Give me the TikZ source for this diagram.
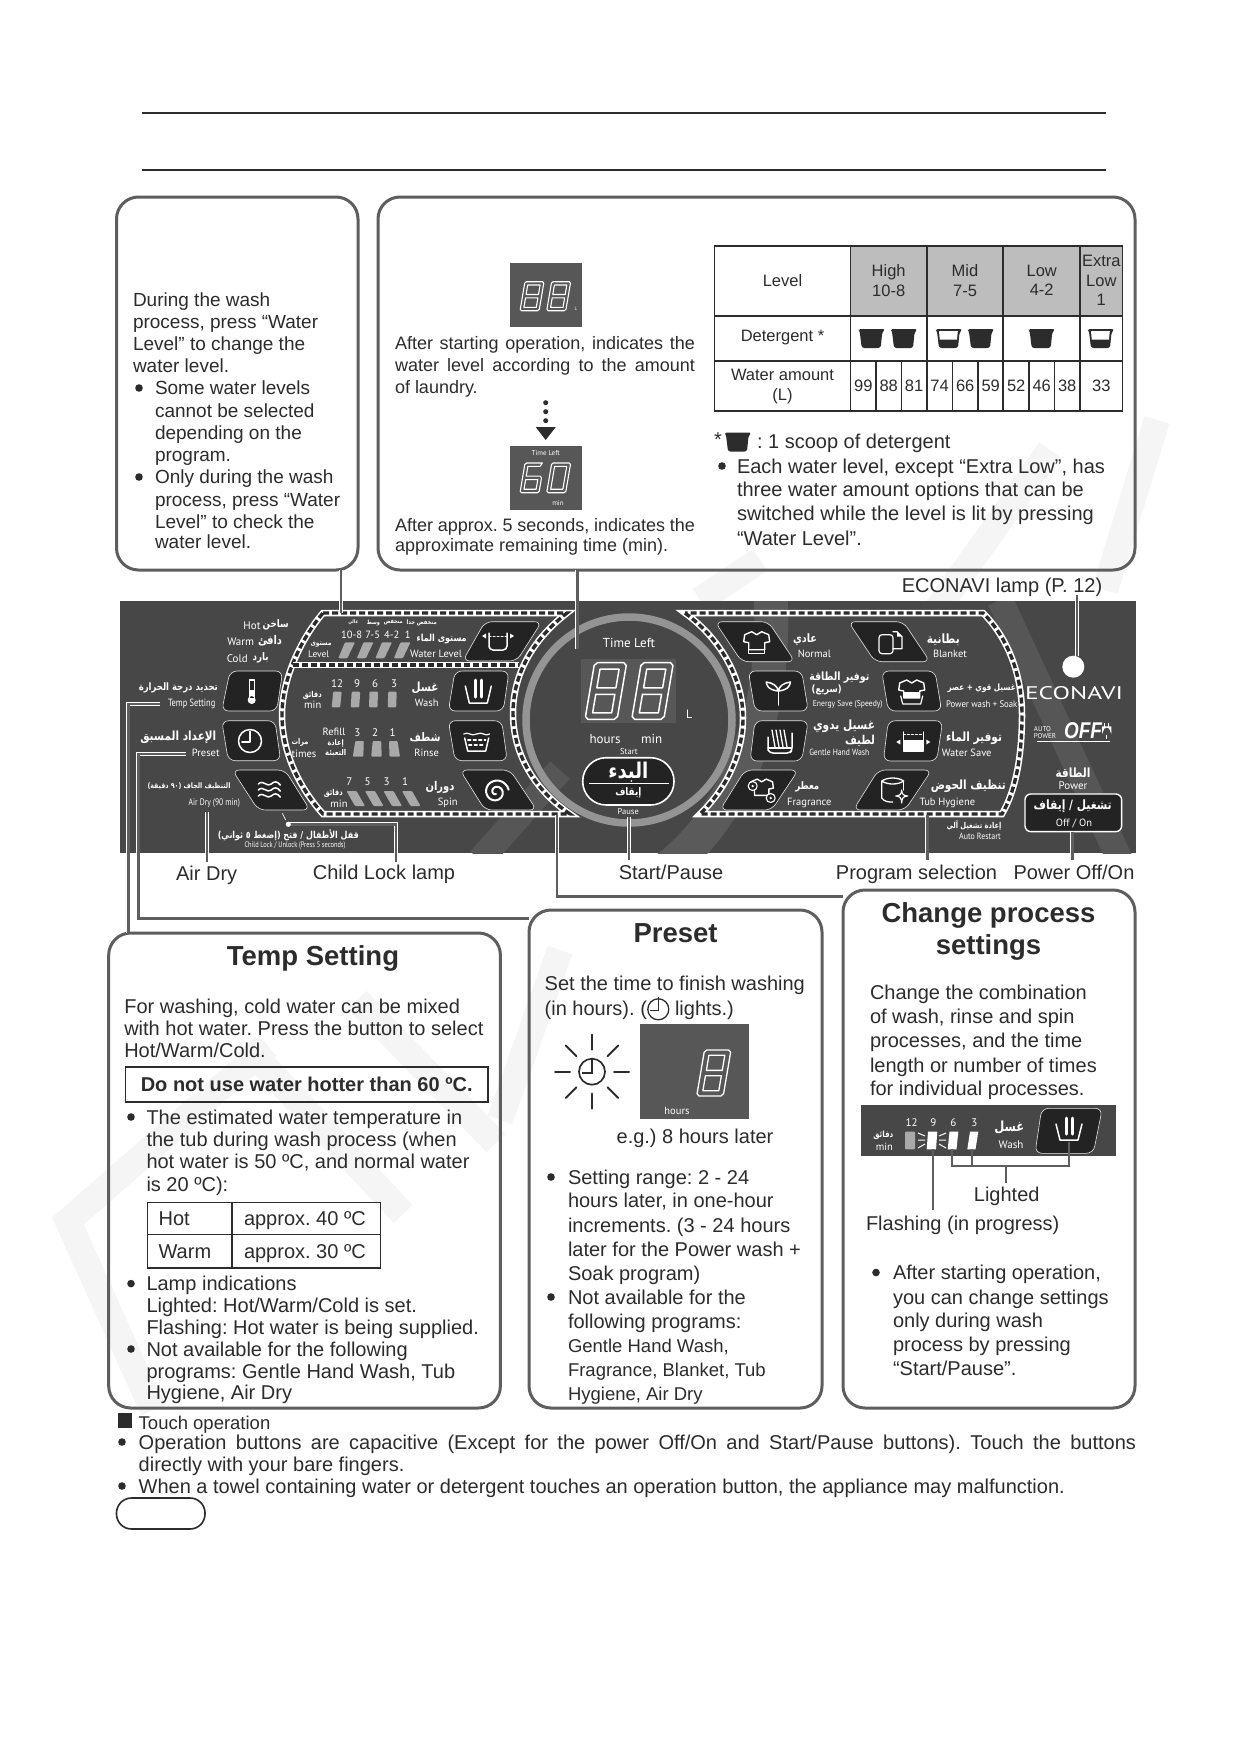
\documentclass[tikz,border=0pt]{standalone}
\usepackage{fontspec}
\usepackage{graphicx}
\setmainfont{Liberation Sans}
\newfontfamily\pf{PT Sans}
\newfontfamily\arabf[Script=Arabic]{DejaVu Sans}
\TeXXeTstate=1
\usetikzlibrary{calc}
\definecolor{ink}{HTML}{2C2C2C}
\definecolor{edge}{HTML}{5E5E5E}
\definecolor{panelc}{HTML}{474747}
\definecolor{lcdc}{HTML}{575757}
\definecolor{btnc}{HTML}{232323}
\definecolor{barc}{HTML}{A9A9A9}
\definecolor{tabg}{HTML}{BDBDBD}
\definecolor{wm}{HTML}{F5F5F5}
\newcount\tcn
\tikzset{
 x=1pt,y=-1pt,
 tx/.style={inner sep=0pt,outer sep=0pt,text=ink,font=\fontsize{20}{22}\selectfont},
 tbl/.style={inner sep=0pt,outer sep=0pt,text=ink,font=\fontsize{16.5}{19.5}\selectfont,align=center},
 plab/.style={inner sep=0pt,outer sep=0pt,text=white,font=\pf\fontsize{10.5}{12}\selectfont},
 rbox/.style={draw=edge,line width=3pt,rounded corners=22pt,fill=white,fill opacity=0,inner sep=0pt,outer sep=0pt},
 leader/.style={draw=white,double=edge,double distance=2.4pt,line width=.8pt},
 btnst/.style={fill=btnc,draw=black!10,line width=.6pt,rounded corners=7pt},
 ic/.style={draw=white,line width=1.5pt,line cap=round,line join=round},
 tline/.style={draw=ink,line width=1.4pt},
 tthick/.style={draw=ink,line width=2.2pt},
 frw/.style={draw=white,line width=6.5pt,line join=miter},
 frd/.style={draw=panelc!60!black,line width=3.4pt,dash pattern=on 6pt off 3pt},
 bar/.style={fill=barc,rounded corners=1pt},
}
\newcommand{\txt}[4][]{\global\advance\tcn by 1\relax\node[tx,#1] (t\the\tcn) at (#2,#3) {#4};}
\newcommand{\bl}[3]{\txt[anchor=base west]{#1}{{#2+7}}{#3}}
\newcommand{\blA}[3]{\txt[anchor=base west,font=\fontsize{19}{22}\selectfont]{#1}{{#2+6.8}}{#3}}
\newcommand{\blB}[3]{\txt[anchor=base west,font=\fontsize{18}{22}\selectfont]{#1}{{#2+6.8}}{#3}}
\newcommand{\jl}[4]{\txt[anchor=base west]{#1}{{#2+7}}{\makebox[#3pt][s]{#4}}}
\newcommand{\jlB}[4]{\txt[anchor=base west,font=\fontsize{18}{22}\selectfont]{#1}{{#2+6.8}}{\makebox[#3pt][s]{#4}}}
\newcommand{\base}[3]{\txt[anchor=base]{#1}{#2}{#3}}
\newcommand{\dotb}[2]{\fill[ink] (#1,#2) circle (3.8);}
\newcommand{\pl}[4][]{\global\advance\tcn by 1\relax\node[plab,#1] (t\the\tcn) at (#2,#3) {#4};}
\newcommand{\nr}[2]{\scalebox{#1}[1]{#2}}
\newcommand{\aral}[4]{\global\advance\tcn by 1\relax\node[plab] (t\the\tcn) at (#1,#2) {\scalebox{1}[1.2]{\resizebox{#3pt}{!}{\arabf\bfseries\fontsize{12}{14}\selectfont #4}}};}
\newcommand{\rb}[5]{\node[rbox,minimum width={#4pt-#2pt},minimum height={#5pt-#3pt}] (#1) at ({(#2+#4)/2},{(#3+#5)/2}) {};}
\newcommand{\btn}[8]{\draw[btnst] (#1,#2)--(#3,#4)--(#5,#6)--(#7,#8)--cycle;}
\newcommand{\ico}[3]{\begin{scope}[shift={(#1,#2)}]#3\end{scope}}
% outlined seven segment digits: 8, 0 or 6
\newcommand{\digit}[6]{\begin{scope}[shift={({#1+.17*#4},#2)},xslant=.17]
 \pgfmathsetmacro{\dgW}{#3-.17*#4}\pgfmathsetmacro{\dgH}{#4}\pgfmathsetmacro{\dgT}{#4*.115}\pgfmathsetmacro{\dgC}{#4*.05}
 \ifnum#5=6
 \draw[white,line width=#6pt,line join=round] (\dgC,0)--({\dgW-\dgT/2},0)--({\dgW-\dgT},\dgT)--(\dgT,\dgT)--(\dgT,{\dgH/2-\dgT/2})--({\dgW-\dgC},{\dgH/2-\dgT/2})--(\dgW,{\dgH/2})--(\dgW,{\dgH-\dgC})--({\dgW-\dgC},\dgH)--(\dgC,\dgH)--(0,{\dgH-\dgC})--(0,\dgC)--cycle;
 \draw[white,line width=#6pt,line join=round] (\dgT,{\dgH/2+\dgT/2}) rectangle ({\dgW-\dgT},{\dgH-\dgT});
 \else
 \draw[white,line width=#6pt,line join=round] (\dgC,0)--({\dgW-\dgC},0)--(\dgW,\dgC)--(\dgW,{\dgH-\dgC})--({\dgW-\dgC},\dgH)--(\dgC,\dgH)--(0,{\dgH-\dgC})--(0,\dgC)--cycle;
 \ifnum#5=8
 \draw[white,line width=#6pt,line join=round] (\dgT,\dgT) rectangle ({\dgW-\dgT},{\dgH/2-\dgT/2});
 \draw[white,line width=#6pt,line join=round] (\dgT,{\dgH/2+\dgT/2}) rectangle ({\dgW-\dgT},{\dgH-\dgT});
 \else
 \draw[white,line width=#6pt,line join=round] (\dgT,\dgT) rectangle ({\dgW-\dgT},{\dgH-\dgT});
 \fi\fi
 \end{scope}}
\newcommand{\scoop}[3]{\ico{#1}{#2}{\fill[ink,rounded corners=2.5pt] (-13.5,-9.5)--(13.5,-9.5)--(10.5,-6)--(9,9.5)--(-10,9.5)--(-12,-7)--cycle;
 \ifnum#3=1 \fill[white] (-10,-7.3)--(8.8,-7.3)--(8,1)--(-9.3,1)--cycle;\fi}}
\newcommand{\clockic}[1]{\draw[ic] (0,0) circle (#1); \draw[ic] (0,{-.85*#1})--(0,{.1*#1})--({-.7*#1},{.1*#1});}
\newcommand{\shirt}{\draw[ic,line width=1.4pt] (-5,-11)--(-12,-8)--(-13,-1)--(-8,0)--(-8,7)--(8,7)--(8,0)--(13,-1)--(12,-8)--(5,-11)--(0,-8)--cycle;}
\begin{document}
\begin{tikzpicture}
\frenchspacing
\useasboundingbox (0,0) rectangle (1247,1740);
\fill[white] (0,0) rectangle (1247,1740);
% watermark strokes
\begin{scope}[line width=26pt,line cap=butt,line join=miter]
\draw[wm] (153,1410)--(68,1221)--(268,1046);
\draw[wm] (246,1046)--(403,1214);
\draw[wm] (357,1000)--(496,1143);
\draw[wm] (500,1120)--(560,950);
\draw[wm] (1157,420)--(1105,590);
\draw[wm] (1050,450)--(915,640);
\draw[wm] (760,560)--(700,600);
\end{scope}
% title rules
\coordinate (r1a) at (142,113);\coordinate (r1b) at (1106,113);
\coordinate (r2a) at (142,170);\coordinate (r2b) at (1106,170);
\draw[ink,line width=2.2pt] (r1a)--(r1b);
\draw[ink,line width=2.2pt] (r2a)--(r2b);
% panel
\fill[panelc] (120,601) rectangle (1136,853);
\begin{scope}
\clip (120,601) rectangle (1136,853);
\draw[panelc!90!white,line width=34pt] (650,880) .. controls (730,830) and (780,720) .. (770,590);
\draw[panelc!92!white,line width=26pt] (1000,600)--(1120,860);
\draw[panelc!92!white,line width=26pt] (480,860)--(560,770);
\end{scope}
\coordinate (c) at (629,720);
% frames
\path[frw] (323,613)--(567,613) .. controls (532,640) and (513,675) .. (513,713) .. controls (513,755) and (535,790) .. (570,814) --(323,814) .. controls (297,785) and (282,750) .. (282,715) .. controls (282,680) and (300,640) .. (323,613)--cycle;
\path[frd] (323,613)--(567,613) .. controls (532,640) and (513,675) .. (513,713) .. controls (513,755) and (535,790) .. (570,814) --(323,814) .. controls (297,785) and (282,750) .. (282,715) .. controls (282,680) and (300,640) .. (323,613)--cycle;
\draw[white,line width=6pt] (293,665)--(519,665);
\draw[frd] (293,665)--(519,665);
\path[frw] (685,613) .. controls (722,640) and (743,680) .. (743,718) .. controls (743,755) and (725,790) .. (700,814) -- (1002,814) .. controls (1016,790) and (1022,755) .. (1022,715) .. controls (1022,670) and (1005,635) .. (983,613) -- cycle;
\path[frd] (685,613) .. controls (722,640) and (743,680) .. (743,718) .. controls (743,755) and (725,790) .. (700,814) -- (1002,814) .. controls (1016,790) and (1022,755) .. (1022,715) .. controls (1022,670) and (1005,635) .. (983,613) -- cycle;
% dial
\draw[draw=black!42,line width=7.5pt] (c) circle (103);
\fill[lcdc] (581,659) rectangle (675.7,723.3);
\digit{585}{662.7}{41.7}{56.6}{8}{1.5}
\digit{631.7}{662.7}{41.7}{56.6}{8}{1.5}
\pl[font=\pf\fontsize{13}{15}\selectfont]{629}{643.3}{Time Left}
\pl[font=\pf\fontsize{12}{14}\selectfont]{689.3}{714}{L}
\pl[font=\pf\fontsize{13}{15}\selectfont]{605}{739.3}{hours}
\pl[font=\pf\fontsize{13}{15}\selectfont]{651.7}{739.3}{min}
\pl[font=\pf\fontsize{8.5}{10}\selectfont]{629}{751.3}{Start}
\draw[fill=btnc,draw=white,line width=1.6pt,rounded corners=23.5pt] (582.7,757.7) rectangle (674,805);
\draw[white,line width=.8pt] (589,783.3)--(669,783.3);
\aral{628.3}{771.7}{40}{\beginR البدء\endR}
\aral{628.3}{793}{26}{\beginR إيقاف\endR}
\pl[font=\pf\fontsize{8.5}{10}\selectfont]{628.3}{811.7}{Pause}
% left buttons
\btn{485}{621.7}{541.7}{621.7}{516.7}{661}{462.7}{661}
\btn{455}{671}{509}{671}{503.3}{711}{448.3}{711}
\btn{448.3}{720.7}{501.7}{720.7}{507.3}{760.7}{455}{760.7}
\btn{460}{770}{510}{770}{536.7}{810}{485}{810}
\btn{230}{671}{282.7}{671}{276.7}{711}{221.7}{711}
\btn{221.7}{720.7}{275}{720.7}{280.7}{760.7}{228.3}{760.7}
\btn{232.3}{770}{285}{770}{310}{810}{258.3}{810}
% right buttons
\btn{715}{621.7}{768.3}{621.7}{795}{661.7}{741.7}{661.7}
\btn{848.3}{621.7}{903.3}{621.7}{930}{661.7}{875}{661.7}
\btn{748.3}{671}{801.7}{671}{808.3}{711}{755}{711}
\btn{881.7}{671}{935}{671}{941.7}{711}{888.3}{711}
\btn{755}{720.7}{808.3}{720.7}{801.7}{761}{750}{761}
\btn{888.3}{720.7}{942.7}{720.7}{936.7}{761}{883.3}{761}
\btn{745}{770}{798.3}{770}{771.7}{810}{720}{810}
\btn{878.3}{770}{931.7}{770}{905}{810}{853.3}{810}
% icons
\ico{498}{641}{\draw[ic] (-9,-8)--(-9,6)[rounded corners=4pt]--(-9,9)--(9,9)--(9,-8);\draw[ic,line width=1pt,dash pattern=on 2pt off 2pt] (-9,-5)--(9,-5);\fill[white] (-16,-5)--(-12,-7.5)--(-12,-2.5)--cycle (16,-5)--(12,-7.5)--(12,-2.5)--cycle;}
\ico{478.3}{692}{\draw[ic] (-13,-6)--(-9,11)--(9,11)--(13,-6);\draw[ic,line width=3pt] (-3,-12)--(-3,5) (3,-12)--(3,5);}
\ico{476.7}{741}{\draw[ic] (-12,-3)--(-9,10)--(9,10)--(12,-3);\draw[ic,line width=1.2pt] (-13,-7) .. controls (-8,-10) and (-6,-4) .. (0,-7) .. controls (6,-10) and (8,-4) .. (13,-7);\draw[ic,line width=1.2pt,dash pattern=on 3pt off 2.5pt] (-9,-1)--(9,-1) (-8,4)--(8,4);}
\ico{496}{792}{\draw[ic,line width=2pt] plot[smooth,domain=0:620,samples=40] ({(2+\x*.0175)*cos(\x+90)},{(2+\x*.0175)*sin(\x+90)});}
\ico{251.7}{692}{\draw[ic,line width=1.1pt] (-2.5,6)--(-2.5,-12)--(2.5,-12)--(2.5,6);\fill[white] (0,8) circle (4) (-2.5,-2) rectangle (2.5,6);}
\ico{250}{741}{\clockic{11.5}}
\ico{269.3}{790}{\foreach \yy in {-6,0,6}{\draw[ic] (-11,\yy) .. controls (-6,{\yy-5}) and (-2,{\yy+4}) .. (2,\yy) .. controls (5,{\yy-3}) and (8,{\yy-3}) .. (11,{\yy+1});}}
\ico{756.7}{642.7}{\shirt\draw[ic,line width=1.2pt] (-8,3)--(-8,11)--(8,11)--(8,3);\draw[ic,line width=1.2pt] (-8,7)--(8,7);}
\ico{890}{642.7}{\draw[ic,line width=1.2pt,rounded corners=3pt] (-11,-8) rectangle (3,11);\draw[ic,line width=1.2pt] (3,-11)--(7,-11)--(12,-6)--(12,6)--(3,6);\fill[white] (7,-11)--(12,-6)--(7,-6)--cycle;}
\ico{778.3}{692}{\draw[ic] (0,13)--(0,-1);\draw[ic] (0,-1) .. controls (-11,-2) and (-12,-8) .. (-12,-10) .. controls (-5,-9) and (-1,-6) .. (0,-1) .. controls (1,-6) and (5,-9) .. (12,-10) .. controls (12,-8) and (11,-2) .. (0,-1);}
\ico{911.7}{691}{\shirt\fill[white] (-8,1) rectangle (8,7);\draw[ic,line width=1.2pt] (-11,5)--(-9,13)--(9,13)--(11,5);}
\ico{780}{741}{\draw[ic] (-12,-4)--(-12,9)[rounded corners=3pt]--(-10,12)--(10,12)--(12,9)--(12,-8);\foreach \dx in {-6,-2,2,6}{\draw[ic,line width=1.3pt] ({\dx-2},-11)--({\dx+1},6);}\draw[ic,line width=1.2pt] (-12,7)--(12,7);}
\ico{913.3}{742}{\draw[ic] (-10,-10)--(-10,9)--(10,9)--(10,-10);\fill[white] (-10,-2) rectangle (10,9);\draw[ic,line width=1pt,dash pattern=on 2pt off 2pt] (-10,-8)--(10,-8);\fill[white] (-17,0)--(-13,-2.5)--(-13,2.5)--cycle (17,0)--(13,-2.5)--(13,2.5)--cycle;}
\ico{761.7}{789}{\begin{scope}[scale=.9]\shirt\end{scope}\foreach \fx/\fy in {-9/-3,9/9}{\draw[ic,line width=1.1pt,fill=btnc] (\fx,\fy) circle (4.5);\fill[white] (\fx,\fy) circle (1.3);}}
\ico{892.7}{790}{\draw[ic,line width=1.3pt] (-11,-9) .. controls (-5,-13) and (5,-13) .. (11,-9) .. controls (5,-5) and (-5,-5) .. (-11,-9) --(-11,8) .. controls (-8,12) and (-4,12) .. (0,12);\draw[ic,line width=1.3pt] (11,-9)--(11,0);\draw[ic,line width=1.2pt,fill=btnc] (9,0) .. controls (9,4) and (11,6) .. (15,6) .. controls (11,6) and (9,8) .. (9,13) .. controls (9,8) and (7,6) .. (3,6) .. controls (7,6) and (9,4) .. (9,0);}
% level bars
\foreach \dx in {0,18.5,37,55.5}{\fill[bar] ({338.3+\dx},658.3)--({345+\dx},642.3)--({355+\dx},642.3)--({347.3+\dx},658.3)--cycle;}
\foreach \xx/\sl in {331.7/1.5,350.7/1,369/.5,387.7/.5}{\fill[bar] (\xx,707.3)--({\xx+\sl},691.7)--({\xx+\sl+8.5},691.7)--({\xx+8.5},707.3)--cycle;}
\foreach \xx/\sl in {354.3/-1.5,371.7/-.5,388/1.5}{\fill[bar] ({\xx+1},741)--({\xx+9.5},741)--({\xx+10.5+\sl},756.7)--({\xx+\sl},756.7)--cycle;}
\foreach \dx in {0,18.5,37,55.5}{\fill[bar] ({346.5+\dx},791)--({356.5+\dx},791)--({365+\dx},806)--({355+\dx},806)--cycle;}
% left labels
\pl[font=\pf\fontsize{11}{13}\selectfont]{252}{625.7}{Hot}
\aral{275.7}{625}{26}{\beginR ساخن\endR}
\pl[font=\pf\fontsize{11}{13}\selectfont]{240.7}{641.7}{Warm}
\aral{270}{640.7}{24}{\beginR دافئ\endR}
\pl[font=\pf\fontsize{11}{13}\selectfont]{237.3}{658.3}{Cold}
\aral{260.7}{658.3}{16}{\beginR بارد\endR}
\aral{178.3}{688.3}{79}{\beginR تحديد درجة الحرارة\endR}
\pl{191.7}{704}{\nr{.8}{Temp Setting}}
\aral{178.3}{737.3}{76}{\beginR الإعداد المسبق\endR}
\pl{205.7}{753.3}{Preset}
\aral{189}{786.7}{83}{\beginR التنظيف الجاف (٩٠ دقيقة)\endR}
\pl[font=\pf\fontsize{9.5}{11}\selectfont]{214.3}{802.7}{\nr{.8}{Air Dry (90 min)}}
\aral{288.3}{835}{141}{\beginR قفل الأطفال / فتح (إضغط ٥ ثواني)\endR}
\pl[font=\pf\fontsize{8}{10}\selectfont]{295}{845.7}{\nr{.8}{Child Lock / Unlock (Press 5 seconds)}}
\aral{421.7}{622.7}{30}{\beginR منخفض جدا\endR}
\aral{393.3}{622.7}{19}{\beginR منخفض\endR}
\aral{373.3}{622.7}{13}{\beginR وسط\endR}
\aral{353.3}{622.7}{10}{\beginR عالي\endR}
\pl{351.7}{635}{10-8}\pl{372.7}{635}{7-5}\pl{391.7}{635}{4-2}\pl{407.7}{635}{1}
\aral{321}{644.3}{21}{\beginR مستوى\endR}
\pl[font=\pf\fontsize{9.5}{11}\selectfont]{318.7}{654.3}{Level}
\aral{441.7}{639.3}{50}{\beginR مستوى الماء\endR}
\pl{436}{654.3}{Water Level}
\pl[font=\pf\fontsize{11}{13}\selectfont]{337}{683.3}{12}\pl[font=\pf\fontsize{11}{13}\selectfont]{357}{683.3}{9}\pl[font=\pf\fontsize{11}{13}\selectfont]{375}{683.3}{6}\pl[font=\pf\fontsize{11}{13}\selectfont]{394}{683.3}{3}
\aral{312.3}{695}{19}{\beginR دقائق\endR}
\pl{312.7}{705}{min}
\aral{425}{687.7}{27}{\beginR غسل\endR}
\pl{426.7}{703.3}{Wash}
\pl{334}{732.3}{Refill}
\aral{335.7}{743.3}{16}{\beginR إعادة\endR}
\aral{335.7}{752.7}{21}{\beginR التعبئة\endR}
\pl[font=\pf\fontsize{11}{13}\selectfont]{357.3}{732.3}{3}\pl[font=\pf\fontsize{11}{13}\selectfont]{375}{732.3}{2}\pl[font=\pf\fontsize{11}{13}\selectfont]{392.7}{732.3}{1}
\aral{300}{742.7}{17}{\beginR مرات\endR}
\pl{304}{754}{times}
\aral{425}{737.3}{31}{\beginR شطف\endR}
\pl{426.7}{752.7}{Rinse}
\pl[font=\pf\fontsize{11}{13}\selectfont]{349.3}{781.7}{7}\pl[font=\pf\fontsize{11}{13}\selectfont]{367.7}{781.7}{5}\pl[font=\pf\fontsize{11}{13}\selectfont]{386.7}{781.7}{3}\pl[font=\pf\fontsize{11}{13}\selectfont]{405}{781.7}{1}
\aral{333.3}{793.3}{19}{\beginR دقائق\endR}
\pl{339}{803.3}{min}
\aral{440}{787.7}{29}{\beginR دوران\endR}
\pl{447.7}{802.7}{Spin}
% right labels
\aral{805}{640}{24}{\beginR عادي\endR}
\pl{814.3}{654.3}{Normal}
\aral{943.3}{639.3}{33}{\beginR بطانية\endR}
\pl{950}{654.3}{Blanket}
\aral{839.3}{677.3}{60}{\beginR توفير الطاقة\endR}
\aral{826.7}{690}{30}{\beginR (سريع)\endR}
\pl[font=\pf\fontsize{8.5}{10}\selectfont]{847.7}{704}{\nr{.9}{Energy Save (Speedy)}}
\aral{981.7}{688.3}{68}{\beginR غسيل قوي + عصر\endR}
\pl[font=\pf\fontsize{9.5}{11}\selectfont]{981.7}{704}{\nr{.92}{Power wash + Soak}}
\aral{844}{726.7}{62}{\beginR غسيل يدوي\endR}
\aral{860}{740.7}{30}{\beginR لطيف\endR}
\pl[font=\pf\fontsize{9}{11}\selectfont]{839.3}{752.7}{\nr{.85}{Gentle Hand Wash}}
\aral{974}{738.3}{56}{\beginR توفير الماء\endR}
\pl{966.7}{752.7}{Water Save}
\aral{807.3}{787.3}{24}{\beginR معطر\endR}
\pl{809.3}{802.7}{Fragrance}
\aral{968.3}{786.7}{75}{\beginR تنظيف الحوض\endR}
\pl{947.3}{802.7}{Tub Hygiene}
\aral{974}{826}{55}{\beginR إعادة تشغيل آلي\endR}
\pl[font=\pf\fontsize{9}{11}\selectfont]{980}{836.7}{\nr{.88}{Auto Restart}}
% econavi
\node[circle,fill=white,minimum size=22pt,inner sep=0pt] (lamp) at (1073.3,666.7) {};
\pl{1074}{693}{\resizebox{98pt}{13pt}{ECONAVI}}
\pl[font=\pf\fontsize{7}{7.5}\selectfont,align=left]{1045}{732.5}{AUTO\\POWER}
\pl[font=\bfseries\itshape\fontsize{19}{22}\selectfont]{1083}{731}{\scalebox{1}[1.2]{OFF}}
\ico{1106.7}{730}{\draw[white,line width=1.1pt] (-4,-3)--(4,-3)--(4,1) arc[start angle=0,end angle=-180,radius=4]--cycle;\draw[white,line width=1.1pt] (-1.8,-3)--(-1.8,-7) (1.8,-3)--(1.8,-7) (0,5)--(0,9);}
\draw[white,line width=.7pt] (1037,741.7)--(1110,741.7);
\aral{1073}{773}{35}{\beginR الطاقة\endR}
\pl[font=\pf\fontsize{11}{13}\selectfont]{1073}{785.7}{Power}
\node[fill=btnc,draw=white,line width=1.4pt,rounded corners=6pt,minimum width=96.7pt,minimum height=37.7pt,inner sep=0pt,outer sep=0pt] (pwr) at (1073.3,812.8) {};
\aral{1072.7}{806}{78}{\beginR تشغيل / إيقاف\endR}
\pl{1074}{823}{Off / On}
% boxes
\rb{box1}{116.5}{197}{358}{570}
\rb{box2}{378}{197}{1135}{570}
\rb{box3}{108.7}{933}{500.4}{1408}
\rb{box4}{529}{910}{822}{1408}
\rb{box5}{843}{890}{1135}{1408}
% connectors
\coordinate (wlv) at (340.7,613);\coordinate (tlf) at (577.3,649.3);
\coordinate (ecoa) at (1076.7,595);
\coordinate (ady) at (206.7,811.7);\coordinate (adyb) at (206.7,861.7);
\coordinate (clk) at (288.3,824.3);\coordinate (clkb) at (395.7,861.7);
\coordinate (stp) at (629,816.7);\coordinate (stpb) at (629,860);
\coordinate (prg) at (927.3,815);\coordinate (prgb) at (927.3,860);
\coordinate (pwb) at (1072.3,860);
\coordinate (tmpa) at (160,704);\coordinate (tmpb) at (128.3,933);
\coordinate (pra) at (186,754);\coordinate (prb) at (529,918.6);\coordinate (prc) at (138.3,918.6);
\coordinate (cpa) at (556.7,815);\coordinate (cpb) at (843,896.5);
\draw[leader] (box1.south -| wlv)--(wlv);
\draw[leader] (box2.south -| tlf)--(tlf);
\draw[leader] (ecoa)--(lamp.north -| ecoa);
\draw[leader] (ady)--(adyb);
\draw[leader] (clk)-|(clkb);
\fill[white] (clk) circle (2.6);
\draw[white,line width=.7pt] (282.3,813.3)--(285.7,820);
\draw[leader] (stp)--(stpb);
\draw[leader] (prg)--(prgb);
\draw[leader] (pwr.south -| pwb)--(pwb);
\draw[leader] (tmpa)-|(tmpb);
\draw[leader] (pra)-|(prc)--(prb);
\draw[leader] (cpa)|-(cpb);
% labels round the panel
\base{1002}{592}{ECONAVI lamp (P. 12)}
\base{206.7}{880.5}{Air Dry}
\base{384}{879}{Child Lock lamp}
\base{671}{879}{Start/Pause}
\base{916.5}{879}{Program selection}
\base{1074}{879}{Power Off/On}
% box1 text
\blA{133}{299.5}{During the wash}
\blA{133}{321.5}{process, press “Water}
\blA{133}{343.5}{Level” to change the}
\blA{133}{366}{water level.}
\dotb{139}{388}\blA{155}{388}{Some water levels}
\blA{155}{410.5}{cannot be selected}
\blA{155}{432.5}{depending on the}
\blA{155}{454.5}{program.}
\dotb{139}{477}\blA{155}{477}{Only during the wash}
\blA{155}{499.5}{process, press “Water}
\blA{155}{521.5}{Level” to check the}
\blA{155}{541.5}{water level.}
% box2 display
\fill[lcdc] (509.7,262.7) rectangle (581.7,326.7);
\digit{520}{281.7}{24}{29}{8}{1.1}
\digit{546.7}{281.7}{24}{29}{8}{1.1}
\pl[font=\pf\fontsize{5}{6}\selectfont]{576}{309}{L}
\fill[lcdc] (509.7,446) rectangle (581.7,510);
\digit{520}{463}{24}{29.7}{6}{1.1}
\digit{546.7}{463}{24}{29.7}{0}{1.1}
\pl[font=\pf\fontsize{7}{8}\selectfont]{545.7}{453.5}{Time Left}
\pl[font=\pf\fontsize{7}{8}\selectfont]{558}{503.5}{min}
\jlB{395}{343}{300}{After starting operation, indicates the}
\jlB{395}{365}{300}{water level according to the amount}
\blB{395}{387}{of laundry.}
\fill[ink] (545.7,402.7) circle (2.5) (545.7,411.7) circle (2.5) (545.7,420.7) circle (2.5);
\fill[ink] (535.7,427)--(555.7,427)--(545.7,440)--cycle;
\jlB{395}{525}{300}{After approx. 5 seconds, indicates the}
\blB{395}{545}{approximate remaining time (min).}
% table
\fill[tabg] (850.7,246) rectangle (1122.7,316);
\draw[tline] (714.3,246) rectangle (1122.7,411);
\draw[tthick] (714.3,246)--(1122.7,246);
\draw[tline] (714.3,316)--(1122.7,316) (850.7,246)--(850.7,411) (1080,246)--(1080,411);
\draw[tthick] (714.3,361)--(1122.7,361) (926.7,246)--(926.7,411) (1003.3,246)--(1003.3,411);
\draw[tline] (876,361)--(876,411) (901.3,361)--(901.3,411) (952.3,361)--(952.3,411) (978,361)--(978,411) (1029,361)--(1029,411) (1054.3,361)--(1054.3,411);
\txt[tbl]{782.5}{280.5}{Level}
\txt[tbl]{888.7}{280.5}{High\\10-8}
\txt[tbl]{965}{280.5}{Mid\\7-5}
\txt[tbl]{1041.7}{280.5}{Low\\4-2}
\txt[tbl]{1101.3}{280.5}{Extra\\Low\\1}
\txt[tbl]{782.5}{338}{Detergent *}
\txt[tbl]{782.5}{386.5}{Water amount\\(L)}
\txt[tbl]{863.3}{386}{99}\txt[tbl]{888.7}{386}{88}\txt[tbl]{914}{386}{81}
\txt[tbl]{939.5}{386}{74}\txt[tbl]{965.2}{386}{66}\txt[tbl]{990.7}{386}{59}
\txt[tbl]{1016.2}{386}{52}\txt[tbl]{1041.7}{386}{46}\txt[tbl]{1067.2}{386}{38}
\txt[tbl]{1101.3}{386}{33}
\scoop{871.7}{338.5}{0}\scoop{904}{338.5}{0}
\scoop{949}{338.5}{1}\scoop{981}{338.5}{0}
\scoop{1041.7}{338.5}{0}\scoop{1101}{338.5}{1}
\txt{718}{440}{*}
\scoop{738}{442}{0}
\bl{757}{441.5}{: 1 scoop of detergent}
\dotb{722}{466}\bl{737}{466}{Each water level, except “Extra Low”, has}
\bl{737}{489}{three water amount options that can be}
\bl{737}{513}{switched while the level is lit by pressing}
\bl{737}{538}{“Water Level”.}
% box3
\txt[font=\bfseries\fontsize{27.5}{30}\selectfont]{313}{958}{Temp Setting}
\bl{124.3}{1006}{For washing, cold water can be mixed}
\bl{124.3}{1028.5}{with hot water. Press the button to select}
\bl{124.3}{1050.6}{Hot/Warm/Cold.}
\node[draw=ink,line width=1.3pt,minimum width=362.6pt,minimum height=35pt,inner sep=0pt,outer sep=0pt,text=ink,font=\bfseries\fontsize{20}{22}\selectfont] (warn) at (306.7,1084.5) {Do not use water hotter than 60 ºC.};
\dotb{131}{1117}\bl{146.5}{1117}{The estimated water temperature in}
\bl{146.5}{1139}{the tub during wash process (when}
\bl{146.5}{1161.5}{hot water is 50 ºC, and normal water}
\bl{146.5}{1184}{is 20 ºC):}
\draw[tline] (147.5,1202.6) rectangle (380.5,1268) (147.5,1234.7)--(380.5,1234.7) (232,1202.6)--(232,1268);
\bl{158.6}{1218}{Hot}\bl{244}{1218}{approx. 40 ºC}
\bl{158.6}{1251}{Warm}\bl{244}{1251}{approx. 30 ºC}
\dotb{131}{1283.6}\bl{146.5}{1283.6}{Lamp indications}
\bl{146.5}{1305.7}{Lighted: Hot/Warm/Cold is set.}
\bl{146.5}{1327}{Flashing: Hot water is being supplied.}
\dotb{131}{1349}\bl{146.5}{1349}{Not available for the following}
\bl{146.5}{1371}{programs: Gentle Hand Wash, Tub}
\bl{146.5}{1392}{Hygiene, Air Dry}
% box4
\txt[font=\bfseries\fontsize{27.5}{30}\selectfont]{675.6}{933}{Preset}
\bl{544.7}{983}{Set the time to finish washing}
\bl{544.7}{1008.5}{(in hours). (}
\ico{658.3}{1009.3}{\draw[ink,line width=1.3pt] (0,0) circle (10.5);\draw[ink,line width=1.3pt] (0,-12)--(0,1)--(-8,1);}
\bl{675}{1008.5}{lights.)}
\fill[lcdc] (640.3,1024) rectangle (748.7,1119);
\digit{696.7}{1050}{34.3}{46}{8}{1.3}
\pl[font=\pf\fontsize{10.5}{12}\selectfont]{677}{1111}{hours}
\ico{592}{1071.7}{\draw[ink,line width=1.7pt] (0,0) circle (13);\draw[ink,line width=1.7pt] (0,-14)--(0,1.5)--(-10,1.5);
 \foreach \a in {0,45,...,315}{\draw[ink,line width=2pt,line cap=round] (\a:22)--(\a:37);}}
\txt{695}{1138.5}{e.g.) 8 hours later}
\dotb{551}{1177}\bl{568}{1177}{Setting range: 2 - 24}
\bl{568}{1200.5}{hours later, in one-hour}
\bl{568}{1225}{increments. (3 - 24 hours}
\bl{568}{1249}{later for the Power wash +}
\bl{568}{1273.5}{Soak program)}
\dotb{551}{1297}\bl{568}{1297}{Not available for the}
\bl{568}{1321.5}{following programs:}
\bl{568}{1345.7}{\fontsize{18.5}{20}\selectfont Gentle Hand Wash,}
\bl{568}{1369}{\fontsize{18.5}{20}\selectfont Fragrance, Blanket, Tub}
\bl{568}{1393.5}{\fontsize{18.5}{20}\selectfont Hygiene, Air Dry}
% box5
\txt[font=\bfseries\fontsize{27.5}{30}\selectfont]{988.5}{915}{Change process}
\txt[font=\bfseries\fontsize{27.5}{30}\selectfont]{988.5}{947}{settings}
\bl{870}{992}{Change the combination}
\bl{870}{1016}{of wash, rinse and spin}
\bl{870}{1040.6}{processes, and the time}
\bl{870}{1065}{length or number of times}
\bl{870}{1088}{for individual processes.}
\fill[panelc] (861,1105) rectangle (1116,1155.7);
\pl[font=\pf\fontsize{11}{13}\selectfont]{911.7}{1122.3}{12}\pl[font=\pf\fontsize{11}{13}\selectfont]{933.3}{1122.3}{9}\pl[font=\pf\fontsize{11}{13}\selectfont]{953.3}{1122.3}{6}\pl[font=\pf\fontsize{11}{13}\selectfont]{974.3}{1122.3}{3}
\aral{883.3}{1135}{20}{\beginR دقائق\endR}
\pl{884.3}{1146.7}{min}
\fill[bar] (905,1131.7) rectangle (915,1149.3);
\fill[white] (926.7,1149.3)--(928,1131.7)--(937.3,1131.7)--(936,1149.3)--cycle;
\fill[white] (947.7,1149.3)--(949.5,1131.7)--(958.3,1131.7)--(956.5,1149.3)--cycle;
\fill[white] (967.3,1149.3)--(970,1131.7)--(978.3,1131.7)--(975.5,1149.3)--cycle;
\draw[white,line width=1pt] (918,1133)--(925,1136) (918,1140)--(925,1140) (918,1148)--(925,1144) (939,1136)--(946,1133) (939,1140)--(946,1140) (939,1144)--(946,1148);
\aral{1009.3}{1127.7}{30}{\beginR غسل\endR}
\pl[font=\pf\fontsize{11}{13}\selectfont]{1011}{1144.3}{Wash}
\btn{1041.7}{1108.3}{1102.3}{1108.3}{1093.3}{1153.3}{1035}{1153.3}
\ico{1069}{1130}{\draw[ic] (-13,-6)--(-9,10)--(9,10)--(13,-6);\draw[ic,line width=3pt] (-3,-12)--(-3,4) (3,-12)--(3,4);}
\coordinate (six) at (951.7,1149.3);\coordinate (thr) at (972.3,1149.3);\coordinate (wbt) at (1069,1141.7);
\coordinate (lg1) at (951.7,1165.7);\coordinate (lg2) at (1069,1165.7);\coordinate (lg3) at (972.3,1165.7);\coordinate (lg4) at (1005.7,1165.7);
\coordinate (lgh) at (1005.7,1183.3);\coordinate (fl1) at (933.3,1149);\coordinate (fl2) at (933.3,1210);
\draw[edge,line width=2pt] (six)--(lg1)--(lg2)--(wbt);
\draw[edge,line width=2pt] (thr)--(lg3);
\draw[edge,line width=2pt] (lg4)--(lgh);
\draw[edge,line width=2pt] (fl1)--(fl2);
\txt{1006.7}{1196}{Lighted}
\txt{962.7}{1225}{Flashing (in progress)}
\dotb{876}{1272.5}\bl{893}{1272.5}{After starting operation,}
\bl{893}{1297}{you can change settings}
\bl{893}{1320}{only during wash}
\bl{893}{1344.6}{process by pressing}
\bl{893}{1368}{“Start/Pause”.}
% bottom notes
\fill[ink] (118,1413) rectangle (132,1428);
\bl{138.7}{1422.5}{\fontsize{18.5}{21}\selectfont Touch operation}
\dotb{122}{1442}\jl{138.7}{1442}{997.3}{Operation buttons are capacitive (Except for the power Off/On and Start/Pause buttons). Touch the buttons}
\bl{138.7}{1464}{directly with your bare fingers.}
\dotb{122}{1486}\bl{138.7}{1486}{When a towel containing water or detergent touches an operation button, the appliance may malfunction.}
\draw[ink,line width=1.6pt,rounded corners=15pt] (116.5,1498) rectangle (205,1529);
\end{tikzpicture}
\end{document}
